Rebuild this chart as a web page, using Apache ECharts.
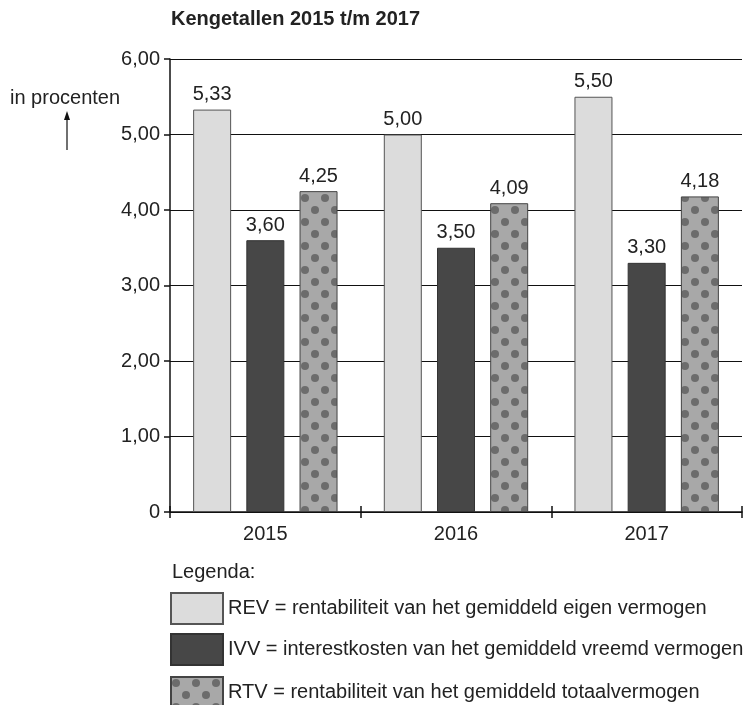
<!DOCTYPE html>
<html>
<head>
<meta charset="utf-8">
<script src="https://cdn.jsdelivr.net/npm/echarts@6/dist/echarts.min.js"></script>
<style>
  html, body { margin: 0; padding: 0; background: #fff; }
  #chart { width: 752px; height: 705px; }
</style>
</head>
<body>
<div id="chart"></div>
<script>
// data
var years = ['2015', '2016', '2017'];
var rev = [5.33, 5.00, 5.50];
var ivv = [3.60, 3.50, 3.30];
var rtv = [4.25, 4.09, 4.18];
var yTicks = [0, 1, 2, 3, 4, 5, 6];
var legendText = {
  REV: 'REV = rentabiliteit van het gemiddeld eigen vermogen',
  IVV: 'IVV = interestkosten van het gemiddeld vreemd vermogen',
  RTV: 'RTV = rentabiliteit van het gemiddeld totaalvermogen'
};

var font = 'Liberation Sans, Arial, sans-serif';

// dotted fill for RTV
function dotPattern() {
  var c = document.createElement('canvas');
  c.width = 20; c.height = 24;
  var ctx = c.getContext('2d');
  ctx.fillStyle = '#a8a8a8';
  ctx.fillRect(0, 0, 20, 24);
  ctx.fillStyle = '#6c6c6c';
  [[5, 6], [15, 18], [-5, 18], [25, 18], [15, -6], [-5, -6], [5, 30]].forEach(function (p) {
    ctx.beginPath();
    ctx.arc(p[0], p[1], 4, 0, Math.PI * 2);
    ctx.fill();
  });
  return c;
}

function fmt(v) {
  return v.toFixed(2).replace('.', ',');
}

var chart = echarts.init(document.getElementById('chart'));

var labelStyle = {
  show: true,
  position: 'top',
  distance: 5,
  color: '#222',
  fontSize: 20,
  fontFamily: font,
  formatter: function (p) { return fmt(p.value); }
};

function legendFor(name, top) {
  return {
    orient: 'vertical',
    left: 165,
    top: top,
    icon: 'rect',
    itemWidth: 52,
    itemHeight: 31,
    itemGap: 5,
    data: [name],
    formatter: function (n) { return legendText[n]; },
    textStyle: { fontSize: 20, color: '#222', fontFamily: font }
  };
}

var option = {
  animation: false,
  textStyle: { fontFamily: font },
  title: {
    text: 'Kengetallen 2015 t/m 2017',
    left: 166,
    top: 4,
    textStyle: { fontSize: 20, fontWeight: 'bold', color: '#222', fontFamily: font }
  },
  grid: { left: 170, right: 10, top: 59, bottom: 193 },
  legend: [legendFor('REV', 587), legendFor('IVV', 628), legendFor('RTV', 671)],
  xAxis: [{
    type: 'category',
    data: years,
    axisLine: { lineStyle: { color: '#111', width: 1.5 } },
    axisTick: { show: true, length: 6, lineStyle: { color: '#111', width: 1.5 } },
    axisLabel: { fontSize: 20, color: '#222', margin: 12, fontFamily: font }
  }, {
    type: 'category',
    data: years,
    position: 'bottom',
    axisLine: { show: false },
    axisTick: { show: true, inside: true, length: 6, lineStyle: { color: '#111', width: 1.5 } },
    axisLabel: { show: false }
  }],
  yAxis: {
    type: 'value',
    min: 0,
    max: 6,
    interval: 1,
    axisLine: { show: true, lineStyle: { color: '#111', width: 1.5 } },
    axisTick: { show: true, length: 6, lineStyle: { color: '#111', width: 1.5 } },
    axisLabel: {
      fontSize: 20, color: '#222', margin: 10, fontFamily: font,
      formatter: function (v) { return v === 0 ? '0' : fmt(v); }
    },
    splitLine: { show: true, lineStyle: { color: '#111', width: 1 } }
  },
  graphic: [
    {
      type: 'text', left: 10, top: 88,
      style: { text: 'in procenten', fontSize: 20, fill: '#222', fontFamily: font }
    },
    {
      type: 'line',
      shape: { x1: 67, y1: 150, x2: 67, y2: 116 },
      style: { stroke: '#111', lineWidth: 1.2 }
    },
    {
      type: 'polygon',
      shape: { points: [[67, 111], [64, 120], [70, 120]] },
      style: { fill: '#111' }
    },
    {
      type: 'text', left: 172, top: 562,
      style: { text: 'Legenda:', fontSize: 20, fill: '#222', fontFamily: font }
    }
  ],
  series: [
    {
      name: 'REV', type: 'bar', data: rev,
      barWidth: 38, barGap: '40%',
      itemStyle: { color: '#dcdcdc', borderColor: '#555', borderWidth: 1 },
      label: labelStyle
    },
    {
      name: 'IVV', type: 'bar', data: ivv,
      barWidth: 38, barGap: '40%',
      itemStyle: { color: '#474747', borderColor: '#333', borderWidth: 1 },
      label: labelStyle
    },
    {
      name: 'RTV', type: 'bar', data: rtv,
      barWidth: 38, barGap: '40%',
      itemStyle: {
        color: { image: dotPattern(), repeat: 'repeat' },
        borderColor: '#444', borderWidth: 1
      },
      label: labelStyle
    }
  ]
};

chart.setOption(option);
</script>
</body>
</html>
